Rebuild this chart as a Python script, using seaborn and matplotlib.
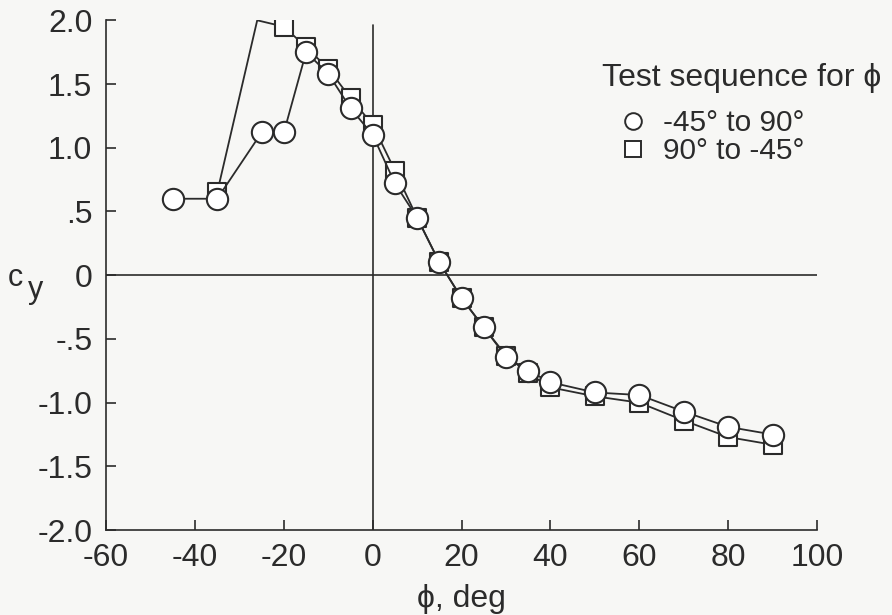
import numpy as np
import pandas as pd
import matplotlib
matplotlib.use("Agg")
import matplotlib.pyplot as plt
import seaborn as sns
from matplotlib.lines import Line2D

# phi sweep -45 -> 90 (circles)
phi_up = [-45, -35, -25, -20, -15, -10, -5, 0, 5, 10, 15, 20, 25, 30, 35, 40, 50, 60, 70, 80, 90]
cy_up = [0.60, 0.60, 1.12, 1.12, 1.75, 1.58, 1.31, 1.10, 0.72, 0.45, 0.10, -0.18, -0.41, -0.64,
         -0.75, -0.84, -0.92, -0.94, -1.07, -1.19, -1.25]

# phi sweep 90 -> -45 (squares); the -26 point is off scale, drawn without a symbol
phi_dn = [-35, -26, -20, -15, -10, -5, 0, 5, 10, 15, 20, 25, 30, 35, 40, 50, 60, 70, 80, 90]
cy_dn = [0.65, 2.00, 1.95, 1.79, 1.62, 1.39, 1.18, 0.82, 0.45, 0.10, -0.18, -0.41, -0.63,
         -0.77, -0.88, -0.95, -1.00, -1.14, -1.27, -1.33]
no_symbol = [-26]

xticks = [-60, -40, -20, 0, 20, 40, 60, 80, 100]
yticks = [2.0, 1.5, 1.0, 0.5, 0.0, -0.5, -1.0, -1.5, -2.0]
ylabels = ["2.0", "1.5", "1.0", ".5", "0", "-.5", "-1.0", "-1.5", "-2.0"]

sns.set_style("ticks")
plt.rcParams['font.family'] = ['Liberation Sans', 'DejaVu Sans']
plt.rcParams['axes.unicode_minus'] = False

bg = "#f7f7f5"
ink = "#2b2b2b"
fs = 23

df_up = pd.DataFrame({"phi": phi_up, "cy": cy_up})
df_dn = pd.DataFrame({"phi": phi_dn, "cy": cy_dn})
df_dn_sym = df_dn[~df_dn["phi"].isin(no_symbol)]

fig = plt.figure(figsize=(8.92, 6.15), dpi=100, facecolor=bg)
ax = fig.add_axes([0.119, 0.138, 0.797, 0.829])
ax.set_facecolor(bg)

# reference lines
ax.axhline(0, color=ink, lw=1.2, zorder=1)
ax.axvline(0, ymax=0.99, color=ink, lw=1.2, zorder=1)

# squares first, circles on top
sns.lineplot(data=df_dn, x="phi", y="cy", sort=False, color=ink, lw=1.3, ax=ax, zorder=2)
sns.scatterplot(data=df_dn_sym, x="phi", y="cy", marker="s", s=165, facecolor="white",
                edgecolor=ink, linewidth=1.5, ax=ax, zorder=3)
sns.lineplot(data=df_up, x="phi", y="cy", sort=False, color=ink, lw=1.3, ax=ax, zorder=4)
sns.scatterplot(data=df_up, x="phi", y="cy", marker="o", s=235, facecolor="white",
                edgecolor=ink, linewidth=1.5, ax=ax, zorder=5)

ax.set_xlim(-60, 100)
ax.set_ylim(-2.0, 2.0)
ax.set_xticks(xticks)
ax.set_yticks(yticks)
ax.set_yticklabels(ylabels)
ax.tick_params(direction="in", length=7, width=1.2, colors=ink, labelsize=fs)
ax.tick_params(axis="y", pad=10)
ax.tick_params(axis="x", pad=9)
for s in ["top", "right"]:
    ax.spines[s].set_visible(False)
for s in ["left", "bottom"]:
    ax.spines[s].set_color(ink)
    ax.spines[s].set_linewidth(1.2)

ax.set_xlabel("ϕ, deg", fontsize=fs, color=ink, labelpad=8)
ax.set_ylabel("")
# c_y label: subscript drawn at the same size, dropped below the baseline
fig.text(8 / 892, 1 - 286 / 615, "c", fontsize=22, color=ink, ha="left", va="baseline")
fig.text(28 / 892, 1 - 298 / 615, "y", fontsize=22, color=ink, ha="left", va="baseline")

# legend
fig.text(0.675, 0.860, "Test sequence for ϕ", fontsize=fs, color=ink, ha="left", va="baseline")
handles = [
    Line2D([], [], ls="none", marker="o", ms=12, mfc="white", mec=ink, mew=1.4),
    Line2D([], [], ls="none", marker="s", ms=11, mfc="white", mec=ink, mew=1.4),
]
ax.legend(handles, ["-45° to 90°", "90° to -45°"], loc="upper left",
          bbox_to_anchor=(618 / 892, 0.822), bbox_transform=fig.transFigure,
          frameon=False, fontsize=21.5, labelspacing=0.0, handlelength=1.0,
          handletextpad=0.5, borderpad=0, borderaxespad=0, labelcolor=ink)

fig.savefig("out.png", dpi=100, facecolor=bg)
